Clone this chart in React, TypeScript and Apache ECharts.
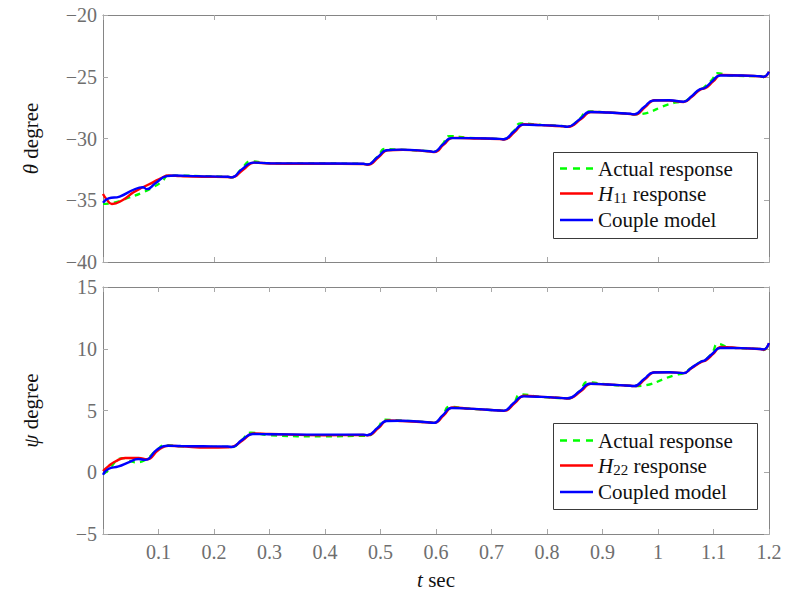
import React, { useEffect, useRef } from "react";
import * as echarts from "echarts";

// ---- theta (top panel) ----
const thetaActualT = [0, 0.02, 0.046, 0.07, 0.088, 0.106, 0.118, 0.14, 0.18, 0.225, 0.232, 0.25, 0.266, 0.3, 0.4, 0.469, 0.476, 0.495, 0.508, 0.535, 0.589, 0.596, 0.612, 0.624, 0.66, 0.715, 0.722, 0.74, 0.752, 0.79, 0.829, 0.836, 0.86, 0.872, 0.91, 0.95, 0.956, 1.03, 1.046, 1.06, 1.076, 1.082, 1.098, 1.106, 1.13, 1.184, 1.19, 1.2];
const thetaActual = [-35.3, -35.2, -34.8, -34.4, -34.0, -33.5, -33.0, -33.0, -33.05, -33.1, -33.15, -32.45, -31.85, -32.0, -32.02, -32.05, -32.1, -31.45, -30.85, -30.9, -31.03, -31.08, -30.45, -29.8, -29.95, -30.03, -30.06, -29.4, -28.78, -28.9, -29.0, -29.05, -28.35, -27.8, -27.9, -28.0, -28.05, -27.1, -27.02, -26.6, -26.0, -25.9, -25.2, -24.7, -24.9, -24.97, -25.02, -24.6];

const thetaH11T = [0, 0.006, 0.016, 0.035, 0.055, 0.072, 0.09, 0.105, 0.118, 0.14, 0.18, 0.225, 0.232, 0.252, 0.273, 0.3, 0.4, 0.469, 0.477, 0.497, 0.513, 0.54, 0.589, 0.597, 0.614, 0.63, 0.66, 0.715, 0.723, 0.742, 0.759, 0.79, 0.829, 0.837, 0.862, 0.879, 0.91, 0.95, 0.958, 0.977, 0.994, 1.02, 1.046, 1.061, 1.078, 1.084, 1.1, 1.114, 1.15, 1.184, 1.19, 1.2];
const thetaH11 = [-34.5, -34.9, -35.3, -35.0, -34.35, -33.95, -33.55, -33.2, -33.0, -33.05, -33.1, -33.12, -33.15, -32.55, -31.95, -32.02, -32.05, -32.07, -32.12, -31.5, -30.95, -30.92, -31.05, -31.1, -30.5, -29.95, -29.98, -30.05, -30.08, -29.45, -28.85, -28.92, -29.02, -29.06, -28.4, -27.85, -27.9, -28.02, -28.06, -27.45, -26.9, -26.92, -27.04, -26.62, -26.0, -25.95, -25.35, -24.85, -24.9, -24.97, -25.02, -24.6];

const thetaCoupledT = [0, 0.01, 0.03, 0.055, 0.072, 0.079, 0.095, 0.115, 0.13, 0.17, 0.225, 0.232, 0.25, 0.271, 0.3, 0.4, 0.469, 0.476, 0.495, 0.511, 0.535, 0.589, 0.596, 0.612, 0.628, 0.66, 0.715, 0.722, 0.74, 0.757, 0.79, 0.829, 0.836, 0.86, 0.877, 0.91, 0.95, 0.957, 0.975, 0.992, 1.02, 1.046, 1.06, 1.076, 1.082, 1.098, 1.112, 1.15, 1.184, 1.19, 1.2];
const thetaCoupled = [-35.2, -34.85, -34.7, -34.15, -33.95, -34.1, -33.6, -33.05, -33.0, -33.05, -33.1, -33.15, -32.5, -31.95, -32.0, -32.02, -32.05, -32.1, -31.5, -30.95, -30.9, -31.03, -31.08, -30.5, -29.97, -29.97, -30.03, -30.06, -29.45, -28.88, -28.92, -29.0, -29.05, -28.4, -27.85, -27.9, -28.0, -28.05, -27.45, -26.92, -26.9, -27.03, -26.6, -26.0, -25.95, -25.35, -24.9, -24.9, -24.96, -25.0, -24.6];

// ---- psi (bottom panel) ----
const psiActualT = [0, 0.005, 0.037, 0.058, 0.076, 0.097, 0.112, 0.14, 0.19, 0.225, 0.232, 0.25, 0.266, 0.3, 0.4, 0.469, 0.476, 0.495, 0.508, 0.535, 0.589, 0.596, 0.612, 0.624, 0.66, 0.715, 0.722, 0.74, 0.752, 0.79, 0.829, 0.836, 0.86, 0.872, 0.91, 0.95, 0.957, 1.034, 1.046, 1.06, 1.078, 1.084, 1.098, 1.108, 1.13, 1.184, 1.19, 1.2];
const psiActual = [-0.1, 0.0, 1.15, 0.8, 1.0, 1.8, 2.2, 2.1, 2.05, 2.05, 2.02, 2.6, 3.2, 3.0, 2.9, 2.95, 2.95, 3.6, 4.25, 4.2, 4.03, 4.0, 4.6, 5.3, 5.15, 5.0, 4.98, 5.6, 6.3, 6.1, 6.0, 5.98, 6.6, 7.3, 7.1, 7.0, 6.98, 7.9, 8.03, 8.45, 8.97, 9.05, 9.7, 10.4, 10.1, 9.98, 9.9, 10.46];

const psiH22T = [0, 0.01, 0.022, 0.04, 0.064, 0.079, 0.1, 0.118, 0.14, 0.19, 0.225, 0.232, 0.252, 0.272, 0.3, 0.4, 0.469, 0.477, 0.497, 0.513, 0.54, 0.589, 0.597, 0.614, 0.63, 0.66, 0.715, 0.723, 0.742, 0.759, 0.79, 0.829, 0.837, 0.862, 0.879, 0.91, 0.95, 0.958, 0.977, 0.994, 1.02, 1.046, 1.061, 1.08, 1.086, 1.1, 1.114, 1.15, 1.184, 1.19, 1.2];
const psiH22 = [0.1, 0.5, 0.87, 1.15, 1.15, 1.05, 1.8, 2.15, 2.1, 2.0, 2.02, 2.05, 2.6, 3.15, 3.1, 3.0, 3.02, 3.0, 3.6, 4.2, 4.15, 4.03, 4.0, 4.6, 5.25, 5.15, 5.0, 4.97, 5.6, 6.2, 6.1, 6.0, 5.97, 6.6, 7.17, 7.1, 7.0, 6.97, 7.55, 8.1, 8.1, 8.03, 8.45, 8.97, 9.05, 9.6, 10.15, 10.05, 9.98, 9.92, 10.46];

const psiCoupledT = [0, 0.0095, 0.028, 0.046, 0.064, 0.076, 0.097, 0.115, 0.14, 0.18, 0.225, 0.232, 0.25, 0.27, 0.3, 0.4, 0.469, 0.476, 0.495, 0.511, 0.535, 0.589, 0.596, 0.612, 0.628, 0.66, 0.715, 0.722, 0.74, 0.757, 0.79, 0.829, 0.836, 0.86, 0.877, 0.91, 0.95, 0.957, 0.975, 0.992, 1.02, 1.046, 1.06, 1.078, 1.084, 1.098, 1.112, 1.15, 1.184, 1.19, 1.2];
const psiCoupled = [-0.2, 0.26, 0.47, 0.8, 1.07, 1.0, 1.82, 2.15, 2.12, 2.1, 2.08, 2.05, 2.6, 3.1, 3.08, 3.05, 3.05, 3.0, 3.6, 4.15, 4.17, 4.03, 4.0, 4.6, 5.2, 5.15, 5.0, 4.98, 5.6, 6.14, 6.1, 6.0, 5.98, 6.6, 7.17, 7.1, 7.0, 6.98, 7.55, 8.08, 8.1, 8.03, 8.45, 8.97, 9.05, 9.6, 10.06, 10.05, 9.98, 9.95, 10.46];

// ---- axis ranges / labels ----
const timeRange = [0, 1.2];
const thetaRange = [-40, -20];
const psiRange = [-5, 15];
const topLegend = ["Actual response", "H11 response", "Couple model"];
const bottomLegend = ["Actual response", "H22 response", "Coupled model"];

const zip = (t: number[], v: number[]) => t.map((x, i) => [x, v[i]]);

const SERIF = "Liberation Serif";
const FRAME = "#858585";
const TICK = "#a8a8a8";
const LABEL = "#6e6e6e";
const INK = "#111111";

// legend glyphs: a solid stroke and a three-dash stroke
const SOLID_ICON = "path://M0,0H33V2.4H0Z";
const DASH_ICON = "path://M0,0H7V2.4H0Z M13,0H20V2.4H13Z M26,0H33V2.4H26Z";

const italicRich = {
  i: { fontStyle: "italic", fontFamily: SERIF, fontSize: 21, color: INK },
  t: { fontFamily: SERIF, fontSize: 21, color: INK },
};

function frameAxis(extra: any) {
  return {
    type: "value",
    axisLine: { show: true, onZero: false, lineStyle: { color: FRAME, width: 1 } },
    axisTick: { show: true, inside: true, length: 5, lineStyle: { color: TICK } },
    axisLabel: { show: false },
    splitLine: { show: false },
    ...extra,
  };
}

function legendFormatter(name: string) {
  if (name.startsWith("H")) {
    return `{i|H}{sub|${name.slice(1, 3)}}{t|${name.slice(3)}}`;
  }
  return `{t|${name}}`;
}

const legendRich = {
  i: { fontStyle: "italic", fontFamily: SERIF, fontSize: 21, color: INK, lineHeight: 24 },
  sub: { fontFamily: SERIF, fontSize: 15, color: INK, lineHeight: 14, verticalAlign: "bottom" },
  t: { fontFamily: SERIF, fontSize: 21, color: INK, lineHeight: 24 },
};

// legend entries only; the surrounding box is drawn as a graphic rect
function legendItems(data: string[], top: number) {
  return {
    data: data.map((name, i) => ({ name, icon: i === 0 ? DASH_ICON : SOLID_ICON })),
    orient: "vertical",
    left: 560,
    top,
    itemWidth: 33,
    itemHeight: 14,
    itemGap: 4,
    padding: 0,
    z: 20,
    formatter: legendFormatter,
    textStyle: { fontFamily: SERIF, fontSize: 21, color: INK, rich: legendRich },
    selectedMode: false,
  };
}

function legendFrame(y: number) {
  return {
    type: "rect",
    left: 553,
    top: y,
    z: 15,
    shape: { width: 204, height: 86 },
    style: { fill: "#fff", stroke: "#3a3a3a", lineWidth: 1 },
  };
}

function lineSeries(name: string, data: number[][], color: string, idx: number, dashed: boolean) {
  return {
    type: "line",
    name,
    data,
    xAxisIndex: idx,
    yAxisIndex: idx,
    showSymbol: false,
    symbol: "none",
    smooth: 0.5,
    lineStyle: { color, width: dashed ? 2.3 : 2.4, type: dashed ? [6, 5] : "solid" },
    itemStyle: { color },
    z: dashed ? 2 : 3,
  };
}

const numLabel = (v: number) => (v < 0 ? "\u2212" + Math.abs(v) : String(v));

export default function App() {
  const ref = useRef<HTMLDivElement>(null);

  useEffect(() => {
    if (!ref.current) return;
    const chart = echarts.init(ref.current, undefined, { renderer: "svg" });

    const yLabel = { show: true, margin: 6, color: LABEL, fontFamily: SERIF, fontSize: 20, formatter: numLabel };

    const option = {
      animation: false,
      backgroundColor: "#fff",
      textStyle: { fontFamily: SERIF },
      grid: [
        { left: 103, top: 15, width: 666, height: 247 },
        { left: 103, top: 287, width: 666, height: 247 },
      ],
      graphic: [legendFrame(152), legendFrame(423)],
      legend: [legendItems(topLegend, 158), legendItems(bottomLegend, 430)],
      xAxis: [
        frameAxis({ gridIndex: 0, position: "bottom", min: timeRange[0], max: timeRange[1], interval: 0.2 }),
        frameAxis({ gridIndex: 0, position: "top", min: timeRange[0], max: timeRange[1], interval: 0.2 }),
        frameAxis({
          gridIndex: 1,
          position: "bottom",
          min: timeRange[0],
          max: timeRange[1],
          interval: 0.1,
          axisLabel: {
            show: true,
            margin: 8,
            color: LABEL,
            fontFamily: SERIF,
            fontSize: 20,
            formatter: (v: number) => (Math.abs(v) < 1e-9 ? "" : String(Math.round(v * 10) / 10)),
          },
          name: "{i|t}{t| sec}",
          nameLocation: "middle",
          nameGap: 35,
          nameTextStyle: { fontFamily: SERIF, fontSize: 21, color: INK, rich: italicRich },
        }),
        frameAxis({ gridIndex: 1, position: "top", min: timeRange[0], max: timeRange[1], interval: 0.1 }),
      ],
      yAxis: [
        frameAxis({
          gridIndex: 0,
          position: "left",
          min: thetaRange[0],
          max: thetaRange[1],
          interval: 5,
          axisLabel: yLabel,
          name: "{i|θ}{t| degree}",
          nameLocation: "middle",
          nameRotate: 90,
          nameGap: 62,
          nameTextStyle: { fontFamily: SERIF, fontSize: 21, color: INK, rich: italicRich },
        }),
        frameAxis({ gridIndex: 0, position: "right", min: thetaRange[0], max: thetaRange[1], interval: 5 }),
        frameAxis({
          gridIndex: 1,
          position: "left",
          min: psiRange[0],
          max: psiRange[1],
          interval: 5,
          axisLabel: yLabel,
          name: "{i|ψ}{t| degree}",
          nameLocation: "middle",
          nameRotate: 90,
          nameGap: 62,
          nameTextStyle: { fontFamily: SERIF, fontSize: 21, color: INK, rich: italicRich },
        }),
        frameAxis({ gridIndex: 1, position: "right", min: psiRange[0], max: psiRange[1], interval: 5 }),
      ],
      series: [
        lineSeries(topLegend[0], zip(thetaActualT, thetaActual), "#00ff00", 0, true),
        lineSeries(topLegend[1], zip(thetaH11T, thetaH11), "#ff0000", 0, false),
        lineSeries(topLegend[2], zip(thetaCoupledT, thetaCoupled), "#0000ff", 0, false),
        lineSeries(bottomLegend[0], zip(psiActualT, psiActual), "#00ff00", 2, true),
        lineSeries(bottomLegend[1], zip(psiH22T, psiH22), "#ff0000", 2, false),
        lineSeries(bottomLegend[2], zip(psiCoupledT, psiCoupled), "#0000ff", 2, false),
      ],
    };

    chart.setOption(option as any);
    return () => chart.dispose();
  }, []);

  return (
    <div
      ref={ref}
      style={{ position: "fixed", left: 0, top: 0, width: 790, height: 594, background: "#fff" }}
    />
  );
}
